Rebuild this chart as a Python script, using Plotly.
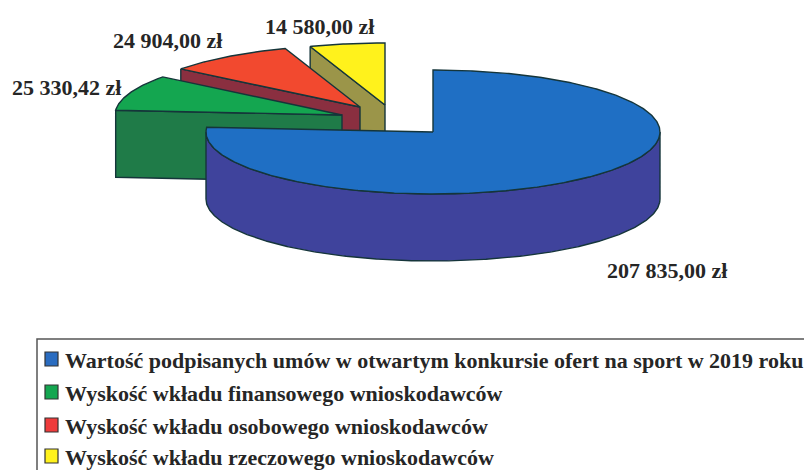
import math
import plotly.graph_objects as go

labels = ["Wartość podpisanych umów w otwartym konkursie ofert na sport w 2019 roku",
          "Wyskość wkładu finansowego wnioskodawców",
          "Wyskość wkładu osobowego wnioskodawców",
          "Wyskość wkładu rzeczowego wnioskodawców"]
values = [207835.00, 25330.42, 24904.00, 14580.00]
value_text = ["207 835,00 zł", "25 330,42 zł", "24 904,00 zł", "14 580,00 zł"]

top_colors = ["#1f6fc4", "#14a650", "#f2492f", "#fff21c"]
wall_colors = ["#3f439c", "#1f7b48", "#8a2f40", "#9b9549"]
swatch_colors = ["#2a6cc0", "#14a650", "#ee3b3b", "#fff21c"]
edge = "#15353a"
text_color = "#262626"

RX, RY, DEPTH = 227, 62, 67
apex = [(433, 132), (342, 115), (360, 107), (385, 105)]
label_pos = [(667, 270), (66, 87), (167, 40), (319, 26)]

total = sum(values)
spans = []
a = 0.0
for v in values:
    spans.append((a, a + 360 * v / total))
    a += 360 * v / total


def rim(cx, cy, a0, a1, dz=0):
    n = max(2, int(abs(a1 - a0)) * 2)
    pts = []
    for i in range(n + 1):
        t = math.radians(a0 + (a1 - a0) * i / n)
        pts.append((cx + RX * math.sin(t), cy - RY * math.cos(t) + dz))
    return pts


def poly(fig, pts, color, name):
    pts = pts + [pts[0]]
    fig.add_trace(go.Scatter(x=[p[0] for p in pts], y=[p[1] for p in pts], mode="lines",
                             fill="toself", fillcolor=color, name=name,
                             line=dict(color=edge, width=1.4), hoverinfo="name", showlegend=False))


fig = go.Figure()
for i in [3, 2, 1, 0]:
    cx, cy = apex[i]
    a0, a1 = spans[i]
    if i == 0:
        upper = rim(cx, cy, 90, 270)
        lower = rim(cx, cy, 270, 90, DEPTH)
        poly(fig, upper + lower, wall_colors[i], labels[i])
    else:
        start_top = rim(cx, cy, a0, a0)[0]
        poly(fig, [start_top, (cx, cy), (cx, cy + DEPTH), (start_top[0], start_top[1] + DEPTH)],
             wall_colors[i], labels[i])
    poly(fig, [(cx, cy)] + rim(cx, cy, a0, a1), top_colors[i], labels[i])

shapes = [dict(type="rect", x0=37, y0=339, x1=830, y1=500, xref="x", yref="y",
               line=dict(color="#555555", width=1.5), fillcolor="rgba(0,0,0,0)", layer="below")]
annotations = []
font = "Liberation Serif"
for i, t in enumerate(value_text):
    x, y = label_pos[i]
    annotations.append(dict(x=x, y=y, text=f"<b>{t}</b>", showarrow=False, xanchor="center", yanchor="middle",
                            font=dict(family=font, size=22, color=text_color)))
rows = [360, 393, 426, 457]
for i, t in enumerate(labels):
    y = rows[i]
    shapes.append(dict(type="rect", x0=45, x1=58, y0=y - 8, y1=y + 6, xref="x", yref="y",
                       fillcolor=swatch_colors[i], line=dict(color="#333333", width=1.2)))
    annotations.append(dict(x=63, y=y, text=f"<b>{t}</b>", showarrow=False, xanchor="left", yanchor="middle",
                            font=dict(family=font, size=22, color=text_color)))

fig.update_layout(width=804, height=470, margin=dict(l=0, r=0, t=0, b=0),
                  paper_bgcolor="white", plot_bgcolor="white", showlegend=False,
                  xaxis=dict(range=[0, 804], visible=False, fixedrange=True),
                  yaxis=dict(range=[470, 0], visible=False, fixedrange=True),
                  shapes=shapes, annotations=annotations)
fig.write_html("out.html", config=dict(displayModeBar=False),
               post_script="document.body.style.margin='0';document.documentElement.style.overflow='hidden';")
